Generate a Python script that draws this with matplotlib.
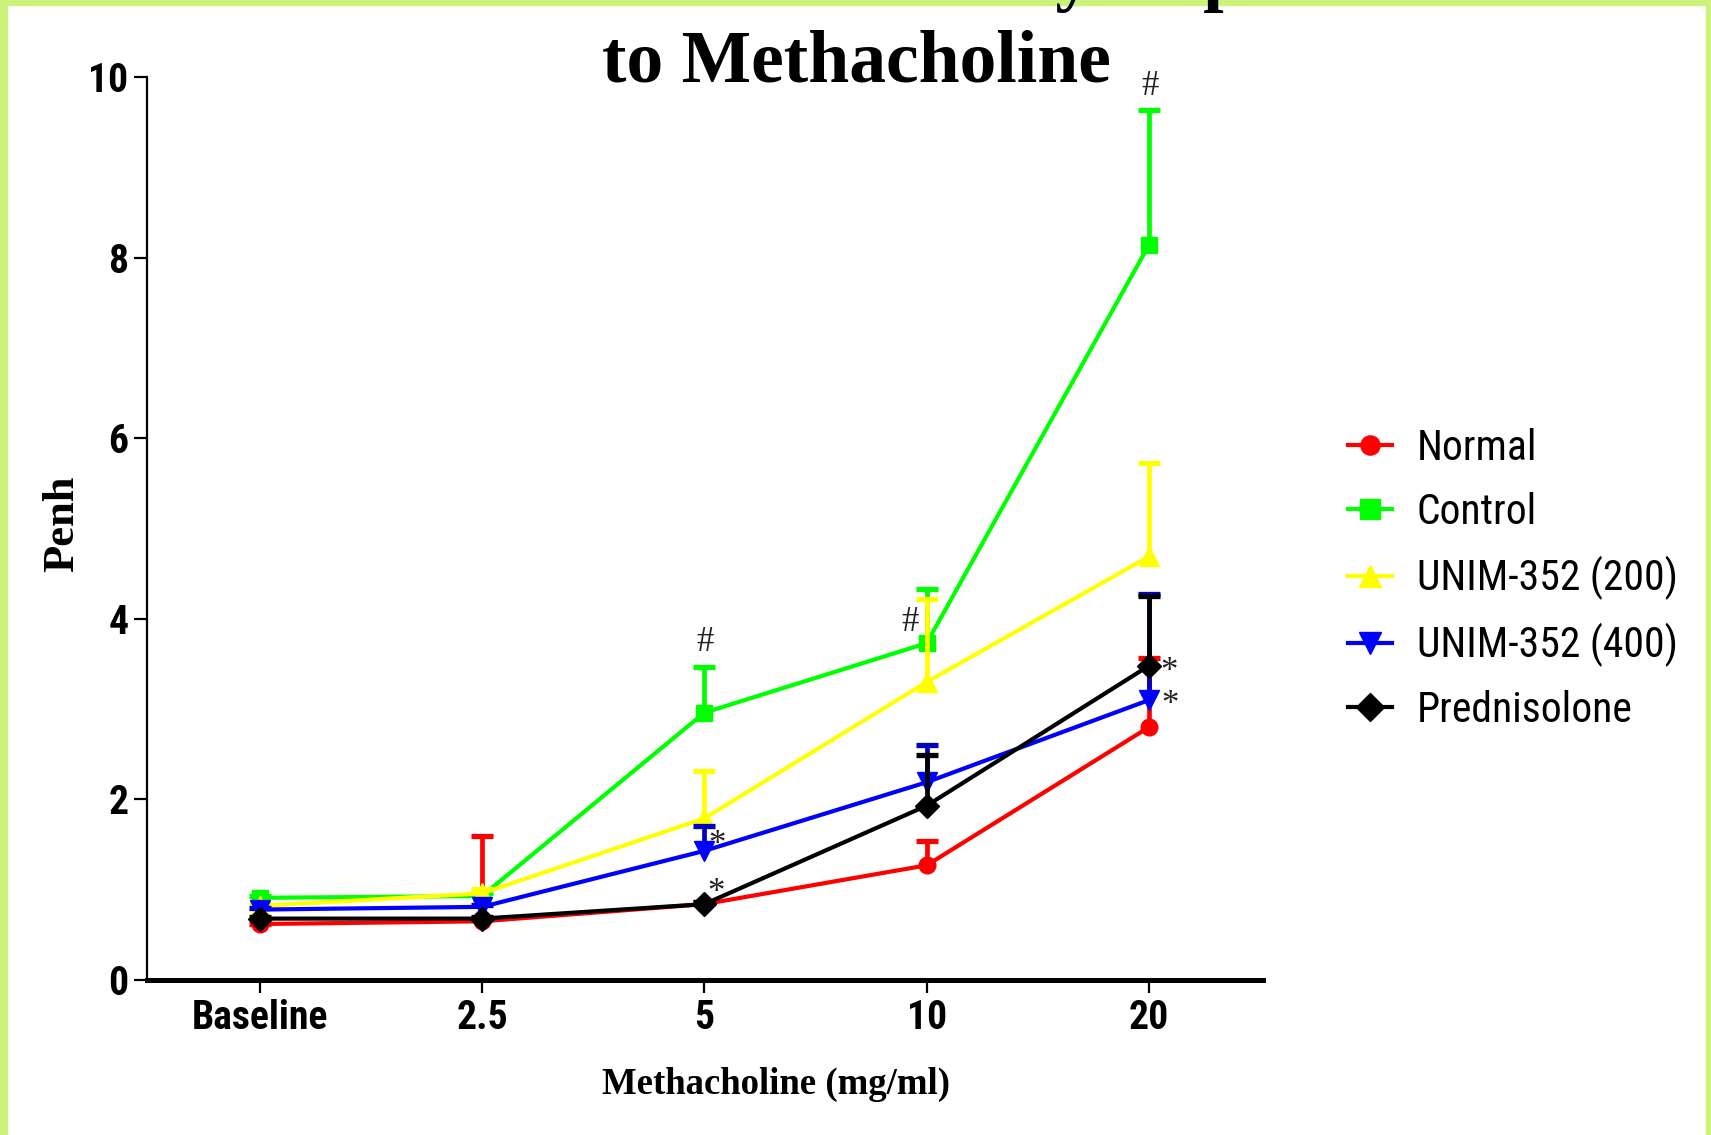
import numpy as np
import matplotlib
matplotlib.use("Agg")
import matplotlib.pyplot as plt
from matplotlib import font_manager
from matplotlib.patches import Rectangle

# ---------------- data ----------------
categories = ['Baseline', '2.5', '5', '10', '20']
series_names = ['Normal', 'Control', 'UNIM-352 (200)', 'UNIM-352 (400)', 'Prednisolone']

normal_mean = [0.62, 0.65, 0.84, 1.27, 2.80]
normal_err = [0.00, 0.95, 0.02, 0.27, 0.77]
control_mean = [0.91, 0.93, 2.96, 3.73, 8.14]
control_err = [0.02, 0.03, 0.51, 0.60, 1.49]
unim200_mean = [0.82, 0.96, 1.79, 3.30, 4.69]
unim200_err = [0.02, 0.05, 0.53, 0.92, 1.04]
unim400_mean = [0.78, 0.81, 1.43, 2.19, 3.10]
unim400_err = [0.02, 0.02, 0.28, 0.41, 1.17]
pred_mean = [0.68, 0.68, 0.84, 1.93, 3.48]
pred_err = [0.02, 0.02, 0.02, 0.56, 0.77]

y_ticks = [0, 2, 4, 6, 8, 10]

sig_marks = [(1, 2, '#'), (1, 3, '#'), (1, 4, '#'),
             (3, 2, '*'), (4, 2, '*'), (4, 4, '*'), (3, 4, '*')]

# ---------------- styles ----------------
colors = ['#ff0000', '#00ff00', '#ffff00', '#0000ff', '#000000']
ecolors = ['#ff0000', '#00ff00', '#ffff00', '#0000c0', '#000000']
markers = ['o', 's', '^', 'v', 'D']
msizes = [12, 12, 14, 14, 12]
mark_offsets = [(1, 24), (-17, -33), (1, 24), (13, 5), (12, 11), (20, -7), (21, -5)]

means = [normal_mean, control_mean, unim200_mean, unim400_mean, pred_mean]
errs = [normal_err, control_err, unim200_err, unim400_err, pred_err]

names = {f.name for f in font_manager.fontManager.ttflist}
pref = ['Roboto Condensed', 'IBM Plex Sans Condensed', 'PT Sans Narrow', 'Liberation Sans']
narrow = next(p for p in pref if p in names)

W, H = 1711, 1135
fig = plt.figure(figsize=(W / 100, H / 100), dpi=100)
fig.patch.set_facecolor('white')

border = '#cdf27b'
fig.patches.append(Rectangle((0, 0), 7 / W, 1, transform=fig.transFigure, color=border, zorder=0))
fig.patches.append(Rectangle((0, 1 - 5 / H), 1, 5 / H, transform=fig.transFigure, color=border, zorder=0))
fig.patches.append(Rectangle((1 - 5 / W, 0), 5 / W, 1, transform=fig.transFigure, color=border, zorder=0))

ax_l, ax_r, ax_b, ax_t = 147, 1263, 980, 77
ax = fig.add_axes([ax_l / W, 1 - ax_b / H, (ax_r - ax_l) / W, (ax_b - ax_t) / H])

sans = [narrow, 'DejaVu Sans']
serif = ['Liberation Serif', 'DejaVu Serif']

x = np.arange(len(categories))
handles = []
for i in range(len(series_names)):
    m = np.array(means[i])
    e = np.array(errs[i])
    z = 2 + i
    eb = ax.errorbar(x, m, yerr=[np.zeros_like(e), e], fmt='none', ecolor=ecolors[i],
                     elinewidth=3.4, capsize=8, capthick=3.8, zorder=z)
    for cl in eb[1]:
        if np.allclose(cl.get_ydata(), m):
            cl.set_visible(False)
    ln, = ax.plot(x, m, color=colors[i], lw=3.0, marker=markers[i], ms=msizes[i],
                  mec=colors[i], mfc=colors[i], zorder=z + 0.5, label=series_names[i])
    handles.append(ln)

for (si, ci, sym), (dx, dy) in zip(sig_marks, mark_offsets):
    yv = means[si][ci] + (errs[si][ci] if sym == '#' else 0)
    ax.annotate(sym, xy=(x[ci], yv), xytext=(dx, dy), textcoords='offset pixels',
                ha='center', va='center', fontsize=25, family=serif, color='#222222',
                zorder=20, annotation_clip=False)

ax.set_xlim(-0.507, 4.513)
ax.set_ylim(0, 10)
ax.set_xticks(x)
ax.set_xticklabels(categories)
ax.set_yticks(y_ticks)
ax.set_yticklabels([str(t) for t in y_ticks])
for lab in ax.get_xticklabels() + ax.get_yticklabels():
    lab.set_family(sans)
    lab.set_fontweight('bold')
    lab.set_fontsize(28.5)
ax.tick_params(axis='both', direction='out', length=9.5, width=1.6, pad=4, colors='black')
ax.spines['top'].set_visible(False)
ax.spines['right'].set_visible(False)
ax.spines['left'].set_linewidth(1.6)
ax.spines['bottom'].set_linewidth(3.6)
ax.set_facecolor('white')

fig.text(776 / W, 1 - 1084 / H, 'Methacholine (mg/ml)', ha='center', va='center',
         family=serif, fontweight='bold', fontsize=26.5)
fig.text(62 / W, 1 - 524 / H, 'Penh', ha='center', va='center', rotation=90,
         family=serif, fontweight='bold', fontsize=32)

fig.text(859 / W, 1 + 3 / H, 'Airway responsiveness', ha='left', va='baseline',
         family=serif, fontweight='bold', fontsize=53, zorder=5)
fig.text(856 / W, 1 - 82 / H, 'to Methacholine', ha='center', va='baseline',
         family=serif, fontweight='bold', fontsize=53, zorder=5)

leg = fig.legend(handles=handles, labels=series_names, loc='upper left',
                 bbox_to_anchor=(1348 / W, 1 - 428 / H), frameon=False,
                 borderpad=0, borderaxespad=0, handlelength=1.05, handletextpad=0.6,
                 labelspacing=0.55, markerscale=1.15, prop={'family': sans, 'size': 30})

fig.savefig('out.png', dpi=100, facecolor='white')
